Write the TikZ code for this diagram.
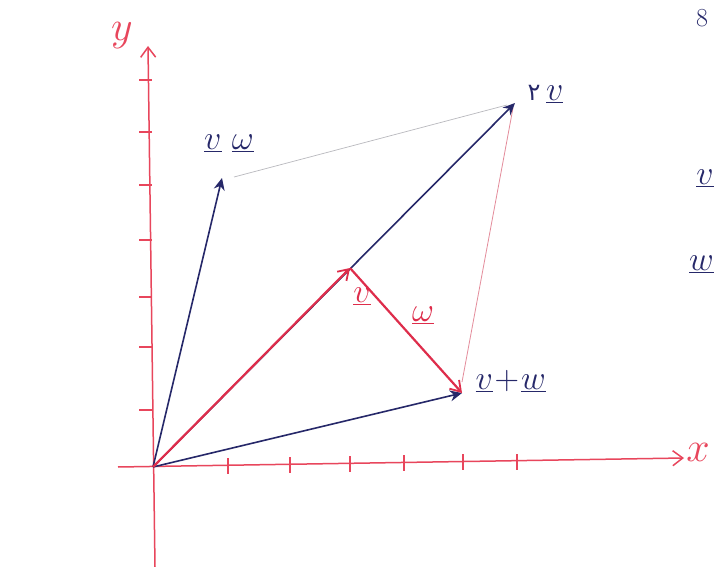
\RequirePackage{fix-cm}
\documentclass[tikz,border=0pt]{standalone}
\usepackage{fontspec}
\newfontfamily\persfont[Script=Arabic]{DejaVu Sans}
\usetikzlibrary{arrows.meta}
\definecolor{axisred}{RGB}{232,70,92}
\definecolor{vecred}{RGB}{222,45,75}
\definecolor{navy}{RGB}{38,40,105}
\definecolor{thingray}{RGB}{185,185,190}
\definecolor{thinpink}{RGB}{228,140,155}
\tikzset{
  axis/.style={draw=axisred, line width=1.5pt, -{Straight Barb[length=10pt,width=15pt,line width=1.5pt]}},
  tickmark/.style={draw=axisred, line width=1.8pt},
  navyvec/.style={draw=navy, line width=1.6pt, -{Stealth[length=12pt,width=11pt]}},
  redvec/.style={draw=vecred, line width=2.2pt, -{Straight Barb[length=10pt,width=13pt,line width=1.8pt]}},
  navylab/.style={text=navy, font=\fontsize{34}{38}\selectfont},
  redlab/.style={text=vecred, font=\fontsize{34}{38}\selectfont},
  axislab/.style={text=axisred, font=\fontsize{42}{46}\selectfont},
}
\begin{document}
\begin{tikzpicture}[x=1pt,y=-1pt]
\useasboundingbox (0,0) rectangle (715,567);
\clip (0,0) rectangle (715,567);
\fill[white] (0,0) rectangle (715,567);
% key points
\coordinate (O) at (153,467);
\coordinate (xstart) at (118,467);
\coordinate (xend) at (684,458);
\coordinate (ystart) at (155,567);
\coordinate (yend) at (148,46);
\coordinate (V) at (350,268);
\coordinate (VW) at (462,393);
\coordinate (TV) at (515,103);
\coordinate (VmW) at (222,178);
\coordinate (Pa) at (234,177);
\coordinate (Pb) at (507,105);
\coordinate (Pc) at (513,108);
\coordinate (Pd) at (462,382);
% axes
\draw[axis] (xstart) -- (xend);
\draw[axis] (ystart) -- (yend);
% ticks on x axis
\foreach \x/\y in {228/466,290/465,350/464,404/463,463/462,517/462}
  \draw[tickmark] (\x,\y-8) -- (\x,\y+8);
% ticks on y axis
\foreach \y in {410,347,297,240,185,132,80}
  \draw[tickmark] (139,\y) -- (152,\y);
% thin parallelogram sides
\draw[thingray, line width=0.7pt] (Pa) -- (Pb);
\draw[thinpink, line width=0.8pt] (Pc) -- (Pd);
% vectors
\draw[navyvec] (O) -- (VmW);
\draw[navyvec] (O) -- (TV);
\draw[navyvec] (O) -- (VW);
\draw[redvec] (O) -- (V);
\draw[redvec] (V) -- (VW);
% labels
\node[axislab] (ylab) at (122,36) {$y$};
\node[axislab] (xlab) at (698,452) {$x$};
\node[navylab] (lvmw) at (229,143) {$\underline{v}\ \underline{\omega}$};
\node[navylab, anchor=west] (l2v) at (524,94) {{\persfont\fontsize{24}{28}\selectfont ۲}\,$\underline{v}$};
\node[redlab] (lv) at (362,296) {$\underline{v}$};
\node[redlab] (lw) at (423,315) {$\underline{\omega}$};
\node[navylab, anchor=west] (lvpw) at (472,381) {$\underline{v}\!+\!\underline{w}$};
% margin notes at the right edge
\node[text=navy, font=\fontsize{26}{28}\selectfont, inner sep=1pt] (m1) at (702,18) {8};
\node[navylab, anchor=east, inner sep=1pt] (m2) at (715,178) {$\underline{v}$};
\node[navylab, anchor=east, inner sep=1pt] (m3) at (715,264) {$\underline{w}$};
\end{tikzpicture}
\end{document}
